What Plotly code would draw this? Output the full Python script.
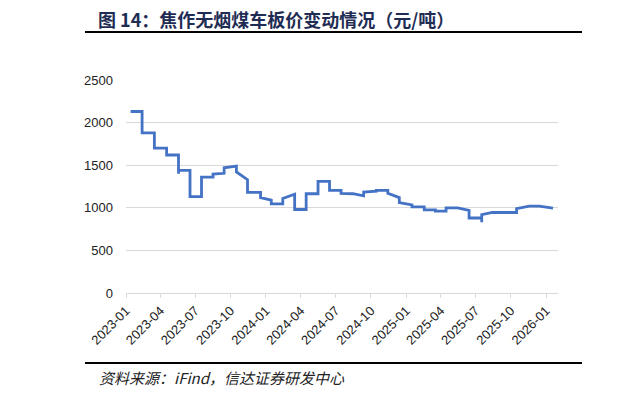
import plotly.graph_objects as go

# ---- data ----
dates = [
    "2023-01-13", "2023-02-12", "2023-02-12", "2023-03-16", "2023-03-16",
    "2023-04-17", "2023-04-17", "2023-05-18", "2023-05-18", "2023-05-18",
    "2023-06-17", "2023-06-17", "2023-07-17", "2023-07-17", "2023-08-16",
    "2023-08-16", "2023-09-14", "2023-09-14", "2023-10-16", "2023-10-16",
    "2023-11-14", "2023-11-14", "2023-12-18", "2023-12-18", "2024-01-15",
    "2024-01-15", "2024-02-14", "2024-02-14", "2024-03-16", "2024-03-16",
    "2024-04-15", "2024-04-15", "2024-05-16", "2024-05-16", "2024-06-15",
    "2024-06-15", "2024-07-15", "2024-07-15", "2024-08-15", "2024-09-12",
    "2024-09-12", "2024-10-15", "2024-10-15", "2024-11-14", "2024-11-14",
    "2024-12-14", "2024-12-14", "2025-01-16", "2025-01-16", "2025-02-17",
    "2025-02-17", "2025-03-18", "2025-03-18", "2025-04-15", "2025-04-15",
    "2025-05-15", "2025-06-14", "2025-06-14", "2025-07-17", "2025-07-17",
    "2025-07-17", "2025-08-14", "2025-10-16", "2025-10-16", "2025-11-18",
    "2025-12-14", "2026-01-19",
]
prices = [
    2130, 2130, 1880, 1880, 1700,
    1700, 1620, 1620, 1400, 1440,
    1440, 1130, 1130, 1360, 1360,
    1395, 1405, 1470, 1490, 1420,
    1330, 1180, 1180, 1120, 1090,
    1045, 1045, 1110, 1160, 980,
    980, 1165, 1165, 1310, 1310,
    1205, 1205, 1170, 1165, 1140,
    1185, 1195, 1205, 1205, 1170,
    1120, 1060, 1035, 1010, 1010,
    975, 975, 960, 960, 1000,
    1000, 970, 880, 880, 830,
    920, 945, 945, 990, 1020,
    1020, 995,
]
tick_vals = ["2023-01-01", "2023-04-01", "2023-07-01", "2023-10-01",
             "2024-01-01", "2024-04-01", "2024-07-01", "2024-10-01",
             "2025-01-01", "2025-04-01", "2025-07-01", "2025-10-01",
             "2026-01-01"]
tick_text = ["2023-01", "2023-04", "2023-07", "2023-10",
             "2024-01", "2024-04", "2024-07", "2024-10",
             "2025-01", "2025-04", "2025-07", "2025-10",
             "2026-01"]
y_ticks = [0, 500, 1000, 1500, 2000, 2500]

title_text = "图 14：焦作无烟煤车板价变动情况（元/吨）"
source_text = "资料来源：iFind，信达证券研发中心"

# ---- layout geometry (page has an 8px body margin) ----
OFF = 8
W, H = 625 - OFF, 394 - OFF
L, R, T, B = 126 - OFF, 558 - OFF, 80 - OFF, 293 - OFF


def px(x):
    # x given in screenshot pixels
    return (x - OFF - L) / (R - L)


def py(y):
    return (B - (y - OFF)) / (B - T)


fig = go.Figure()
fig.add_trace(go.Scatter(
    x=dates, y=prices, mode="lines",
    line=dict(color="#4472C4", width=2.8),
    hoverinfo="skip", showlegend=False,
))

fig.update_layout(
    width=W, height=H,
    margin=dict(l=L, r=W - R, t=T, b=H - B, pad=0),
    paper_bgcolor="white", plot_bgcolor="white",
    font=dict(family="Liberation Sans, Arial, sans-serif", size=13, color="#222"),
    showlegend=False,
)
fig.update_xaxes(
    type="date", range=["2023-01-01", "2026-02-01"],
    tickvals=tick_vals, ticktext=tick_text, tickangle=-45,
    showgrid=False, showline=True, linecolor="#d9d9d9", linewidth=1,
    ticks="outside", ticklen=4, tickcolor="#d9d9d9",
    tickfont=dict(size=13, color="#222"), zeroline=False,
)
fig.update_yaxes(
    range=[0, 2500], tickvals=y_ticks,
    showgrid=True, gridcolor="#d9d9d9", gridwidth=1,
    zeroline=False, showline=False, ticks="", ticklabelstandoff=12,
    tickfont=dict(size=13, color="#222"),
)

# title + rules
fig.add_annotation(
    xref="paper", yref="paper", x=px(96), y=py(19),
    xanchor="left", yanchor="middle", showarrow=False,
    text="<b>" + title_text + "</b>",
    font=dict(family="Noto Sans CJK SC", size=18, color="#1f2d55"),
)
fig.add_shape(type="line", xref="paper", yref="paper",
              x0=px(85), x1=px(582), y0=py(32), y1=py(32),
              line=dict(color="black", width=2.2))
fig.add_shape(type="line", xref="paper", yref="paper",
              x0=px(617), x1=px(640), y0=py(32), y1=py(32),
              line=dict(color="black", width=2.2))
fig.add_annotation(
    xref="paper", yref="paper", x=px(615), y=py(19),
    xanchor="left", yanchor="middle", showarrow=False,
    text="<b>图</b>",
    font=dict(family="Noto Sans CJK SC", size=18, color="#1f2d55"),
)

# footer
fig.add_shape(type="line", xref="paper", yref="paper",
              x0=px(85), x1=px(582), y0=py(363), y1=py(363),
              line=dict(color="black", width=2.2))
fig.add_shape(type="line", xref="paper", yref="paper",
              x0=px(617), x1=px(640), y0=py(366), y1=py(366),
              line=dict(color="black", width=2.2))
fig.add_annotation(
    xref="paper", yref="paper", x=px(97), y=py(377),
    xanchor="left", yanchor="middle", showarrow=False,
    text="<i>" + source_text + "</i>",
    font=dict(family="Noto Sans CJK SC", size=15, color="#222"),
)

fig.write_html("out.html")
